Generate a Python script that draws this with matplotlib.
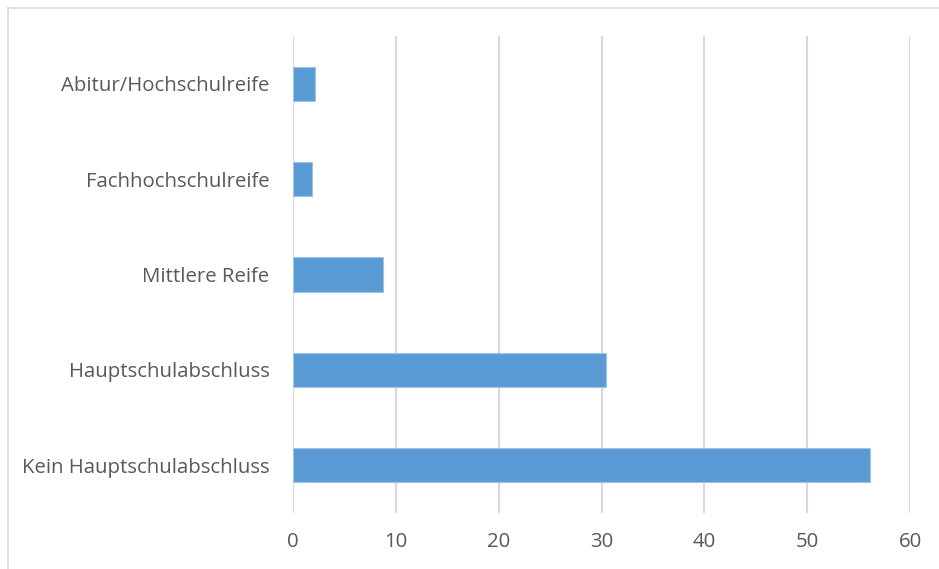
import matplotlib
matplotlib.use("Agg")
import matplotlib.pyplot as plt
from matplotlib.lines import Line2D

categories = ["Kein Hauptschulabschluss", "Hauptschulabschluss", "Mittlere Reife",
              "Fachhochschulreife", "Abitur/Hochschulreife"]
values = [56.1, 30.45, 8.75, 1.82, 2.14]
xticks = [0, 10, 20, 30, 40, 50, 60]

plt.rcParams['font.family'] = ['Open Sans', 'DejaVu Sans']

fig = plt.figure(figsize=(9.39, 5.69), dpi=100)
ax = fig.add_axes([293/939, 1-513/569, (910-293)/939, (513-36)/569])

ypos = list(range(len(categories)))
ax.barh(ypos, values, height=0.36, color="#5B9BD5", edgecolor="#9DC3E6", linewidth=0.8, zorder=3)
ax.set_ylim(-0.5, len(categories) - 0.5)
ax.set_xlim(0, 60)
ax.set_xticks(xticks)
ax.set_yticks(ypos)
ax.set_yticklabels(categories)
ax.grid(axis="x", color="#D9D9D9", linewidth=1.5, zorder=0)
for s in ax.spines.values():
    s.set_visible(False)
ax.tick_params(axis="both", length=0, labelsize=14.7, colors="#595959")
ax.tick_params(axis="x", pad=14)
ax.tick_params(axis="y", pad=17)

# chart-area border (only left and top visible in the crop)
fig.lines.append(Line2D([7.5/939, 7.5/939], [0, 1-7.5/569], transform=fig.transFigure,
                        color="#D9D9D9", linewidth=1.2))
fig.lines.append(Line2D([7.5/939, 1], [1-7.5/569, 1-7.5/569], transform=fig.transFigure,
                        color="#D9D9D9", linewidth=1.2))

fig.savefig("out.png", dpi=100)
